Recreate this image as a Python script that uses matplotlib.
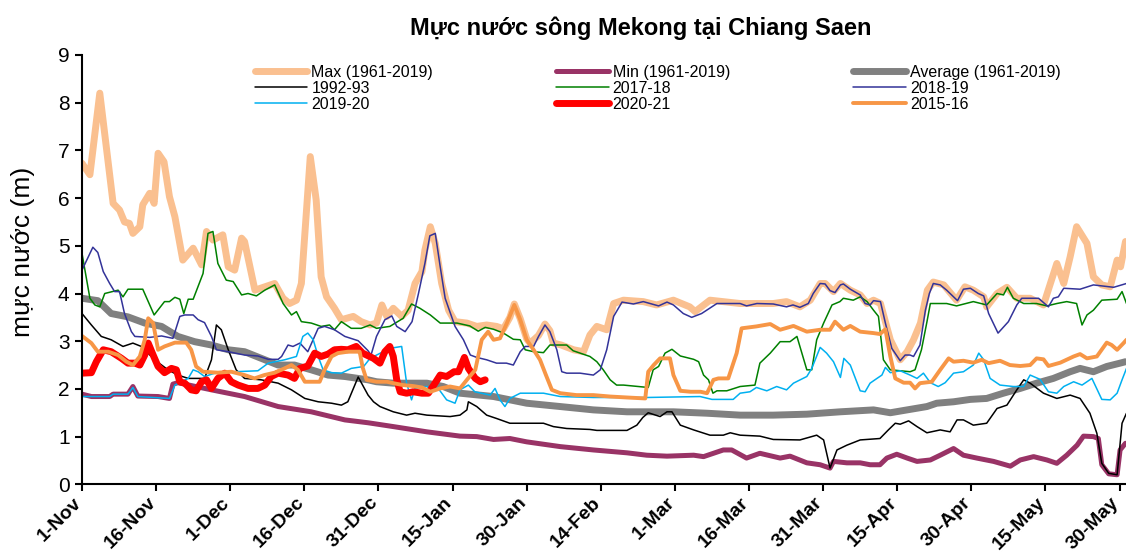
import matplotlib
matplotlib.use("Agg")
import matplotlib.pyplot as plt
from matplotlib.transforms import ScaledTranslation

plt.rcParams['font.family'] = ['Liberation Sans', 'DejaVu Sans']

# day offsets from 1-Nov and water level (m)
tick_days = [0, 15, 30, 45, 60, 75, 90, 105, 120, 135, 150, 165, 180, 195, 210]
tick_labels = ["1-Nov", "16-Nov", "1-Dec", "16-Dec", "31-Dec", "15-Jan", "30-Jan",
               "14-Feb", "1-Mar", "16-Mar", "31-Mar", "15-Apr", "30-Apr", "15-May", "30-May"]

max_days = [0, 1.6, 3.6, 4.9, 6.3, 7.6, 8.6, 9.6, 10.3, 11.7, 12.3, 13.7, 14.6, 15.4, 16.6, 17.7,
            18.8, 20.4, 22.5, 24.2, 25.2, 26.5, 28.5, 29.6, 30.9, 32.3, 32.9, 35, 37, 39, 40.7, 42,
            43.4, 44.4, 46.2, 47.4, 48.4, 49.5, 51.1, 52.5, 54.9, 56.5, 58.3, 59.6, 60.7, 61.7, 63,
            64.7, 66, 67.4, 68.8, 69.4, 70.5, 71.5, 72.8, 74.2, 75.5, 77.9, 79.9, 81.9, 83.9, 85.3,
            86.6, 87.5, 88.7, 90, 90.7, 92.4, 93.7, 94.7, 95.4, 97, 99.5, 101.5, 102.8, 104.2, 106.2,
            107.6, 109.6, 113.6, 116.3, 119.7, 123, 124.1, 127.1, 133.2, 139.9, 142.6, 145.3, 147.4,
            149.4, 150.4, 152.1, 153.5, 155.5, 157.5, 158.9, 160.2, 161.6, 163.6, 165.6, 167, 168.3,
            169.7, 171.1, 172.3, 174.4, 177, 178.7, 180.4, 182.5, 183.1, 185.2, 187.2, 189.2, 191.9,
            194.6, 196, 197.3, 198.7, 200, 201.3, 203.4, 204.7, 206.4, 208.1, 209.5, 210.2, 211.2]
max_vals = [6.73, 6.49, 8.2, 7.08, 5.89, 5.75, 5.5, 5.47, 5.26, 5.40, 5.86, 6.1, 5.89, 6.94, 6.76, 6.03,
            5.61, 4.7, 4.95, 4.6, 5.3, 5.12, 5.23, 4.56, 4.49, 5.16, 5.09, 4.07, 4.14, 4.21, 3.9, 3.79,
            3.86, 4.21, 6.87, 5.96, 4.35, 3.93, 3.69, 3.45, 3.52, 3.41, 3.34, 3.38, 3.76, 3.52, 3.69,
            3.52, 3.65, 4.21, 4.46, 4.91, 5.4, 5.05, 4.21, 3.65, 3.41, 3.38, 3.31, 3.34, 3.31, 3.26,
            3.5, 3.78, 3.47, 3.05, 2.96, 3.12, 3.36, 3.22, 2.96, 2.92, 2.82, 2.78, 3.13, 3.31, 3.24,
            3.79, 3.86, 3.83, 3.76, 3.86, 3.72, 3.62, 3.86, 3.79, 3.79, 3.83, 3.72, 3.86,
            4.21, 4.21, 4.04, 4.21, 4.07, 3.97, 3.79, 3.86, 3.79, 3.03, 2.61, 2.78, 3.03,
            3.38, 4.07, 4.24, 4.18, 3.86, 4.14, 4.07, 3.93, 3.72, 4.0, 4.13, 3.9, 3.9,
            3.76, 4.21, 4.63, 4.21, 4.77, 5.4, 5.05, 4.35, 4.18, 4.14, 4.7, 4.56, 5.09]

min_days = [0, 1.9, 5.6, 6.3, 9.3, 10.3, 11.3, 15.4, 17.7, 18.4, 19.4, 26.2, 32.9, 39.7, 46.4, 53.2,
            57.9, 63, 69.8, 76.5, 79.9, 83.3, 86.6, 90, 96.8, 103.5, 110.3, 114.3, 118.4, 123.8, 125.8,
            129.8, 131.5, 134.5, 137.2, 141.3, 143.3, 146.7, 149.4, 151.4, 152.1, 154.8, 157.5, 159.5,
            161.5, 162.9, 164.9, 167, 169, 171.7, 173.7, 176.4, 178.4, 181.1, 184.5, 187.9, 189.9,
            192.6, 195.3, 197.3, 199.3, 201.4, 202.7, 204.7, 205.7, 206.4, 207.8, 209.5, 210.1, 211.2]
min_vals = [1.89, 1.84, 1.84, 1.89, 1.89, 2.05, 1.85, 1.84, 1.80, 2.10, 2.13, 1.98, 1.84, 1.63, 1.52, 1.35,
            1.29, 1.21, 1.10, 1.01, 1.0, 0.94, 0.96, 0.89, 0.79, 0.72, 0.66, 0.61, 0.59, 0.61, 0.58,
            0.72, 0.72, 0.55, 0.65, 0.55, 0.59, 0.45, 0.41, 0.34, 0.48, 0.45, 0.45, 0.41,
            0.41, 0.55, 0.63, 0.55, 0.48, 0.51, 0.61, 0.75, 0.61, 0.55, 0.48, 0.38, 0.51,
            0.58, 0.51, 0.44, 0.61, 0.82, 1.01, 1.0, 0.96, 0.41, 0.22, 0.20, 0.72, 0.86]

avg_days = [0, 3.2, 5.9, 9.3, 12.7, 16.1, 19.4, 22.8, 26.2, 29.6, 32.9, 36.3, 39.7, 43, 46.4, 49.8,
            53.2, 57.9, 59.6, 63, 69.8, 73.1, 76.5, 83.3, 90, 96.8, 103.5, 110.3, 119.7, 126.5, 133.2,
            139.9, 146.7, 153.5, 160.2, 163.6, 167, 171, 173, 176.4, 179.8, 183.1, 186.5, 189.9,
            193.2, 196.6, 200, 202, 204.7, 207.4, 210.1, 211.2]
avg_vals = [3.90, 3.85, 3.58, 3.51, 3.38, 3.31, 3.10, 2.99, 2.92, 2.82, 2.78, 2.64, 2.50, 2.50, 2.40, 2.29,
            2.26, 2.19, 2.15, 2.12, 2.12, 2.05, 1.91, 1.84, 1.70, 1.63, 1.56, 1.52, 1.52, 1.49, 1.45,
            1.45, 1.47, 1.52, 1.56, 1.50, 1.56, 1.63, 1.70, 1.73, 1.78, 1.80, 1.91, 2.01,
            2.12, 2.22, 2.36, 2.43, 2.36, 2.47, 2.54, 2.57]

y1992_days = [0, 1.9, 3.9, 5.9, 8.3, 10.3, 12, 14.7, 17.4, 19.4, 21.5, 24.8, 26.2, 27.2, 28.2, 29.6,
              31.2, 32.9, 36.3, 39.7, 42.4, 45.1, 47.8, 50.5, 52.5, 53.8, 55.9, 57.9, 59, 60.3, 63,
              65.7, 67.4, 69.8, 74.5, 76.5, 77.9, 78.2, 79.9, 81.9, 83.9, 86.6, 93.4, 95.4, 98.1,
              102.8, 104.2, 110.3, 112.3, 113.5, 114.6, 117, 118.4, 119.4, 121.1, 123.8, 127.1,
              129.8, 131.2, 133.2, 137.2, 139.9, 145.3, 148.7, 150.1, 151.4, 152.8, 154.8, 157.5,
              161.5, 163.2, 164.6, 165.6, 167.3, 169, 171, 173.7, 175.7, 177.1, 178.4, 180.4,
              183.1, 185.2, 187.2, 189.2, 190.6, 191.9, 194.6, 197.3, 200, 202, 204, 205.4, 206.4,
              207.8, 209.5, 210.5, 211.4]
y1992_vals = [3.58, 3.34, 3.10, 3.03, 2.89, 2.96, 2.89, 2.61, 2.40, 2.29, 2.22, 2.22, 2.61, 3.34, 3.24, 2.82,
              2.40, 2.22, 2.19, 2.12, 1.98, 1.80, 1.73, 1.70, 1.66, 1.73, 2.25, 1.87, 1.73, 1.63, 1.52,
              1.45, 1.49, 1.45, 1.42, 1.45, 1.56, 1.73, 1.63, 1.45, 1.38, 1.28, 1.28, 1.21, 1.17,
              1.15, 1.13, 1.13, 1.24, 1.40, 1.50, 1.42, 1.52, 1.52, 1.24, 1.14, 1.03,
              1.03, 1.08, 1.03, 1.01, 0.94, 0.93, 1.03, 0.93, 0.34, 0.72, 0.82, 0.93,
              0.96, 1.14, 1.28, 1.26, 1.33, 1.21, 1.08, 1.14, 1.10, 1.35, 1.35, 1.24,
              1.28, 1.59, 1.66, 1.98, 2.19, 2.12, 1.91, 1.80, 1.87, 1.80, 1.49, 1.07, 0.44,
              0.23, 0.20, 1.28, 1.49]

y2017_days = [0, 1.6, 2.6, 3.6, 4.6, 7.3, 8.3, 9.3, 12.3, 14.6, 16.7, 17.7, 18.8, 19.8, 20.6, 21.5,
              22.5, 24.5, 25.5, 26.5, 27.5, 29.2, 30.6, 32.3, 33.6, 35.3, 37, 39, 40.7, 42.4, 43.4,
              44.4, 46.4, 48.4, 50.1, 51.1, 52.5, 54.5, 56.5, 58.3, 59.6, 62.3, 65, 66.7, 68.4, 70.5,
              72.5, 75.9, 78.5, 80.2, 81.6, 83.3, 85.3, 87.3, 88.7, 89.7, 91.4, 93.4, 94.7, 98.1,
              99.4, 102.8, 104.2, 105.5, 106.9, 108.2, 109.6, 114.6, 115.6, 116.7, 118, 119.4, 121.1,
              123.8, 124.8, 125.8, 126.8, 127.7, 128.5, 130.5, 133.2, 136.2, 137.2, 139.3, 141.3,
              143.3, 144.7, 146.1, 146.7, 147.7, 148.7, 150.1, 151.8, 153.4, 154.1, 156.1, 157.5,
              158.9, 160.2, 161.2, 162.2, 163.6, 165.6, 167.6, 168.6, 169.9, 171, 171.7, 175, 177,
              180.4, 183.1, 185.2, 186.5, 187.3, 188.5, 190.6, 193.2, 195.3, 197.3, 199.3, 201.3,
              202.4, 203.4, 204.7, 206.4, 209.5, 210.5, 211.4]
y2017_vals = [4.84, 3.90, 3.76, 3.72, 4.0, 4.07, 3.93, 4.09, 4.09, 3.55, 3.83, 3.83, 3.92, 3.88, 3.58, 3.88,
              3.88, 4.42, 5.26, 5.30, 4.63, 4.28, 4.25, 3.97, 4.0, 3.95, 4.07, 4.18, 3.79, 3.55, 3.62,
              3.41, 3.38, 3.31, 3.34, 3.24, 3.41, 3.27, 3.27, 3.34, 3.27, 3.31, 3.48, 3.78, 3.69, 3.55,
              3.38, 3.38, 3.32, 3.21, 3.29, 3.25, 3.17, 3.04, 3.03, 2.82, 2.78, 2.76, 2.92, 2.92,
              2.80, 2.68, 2.57, 2.40, 2.19, 2.08, 2.08, 2.03, 2.40, 2.47, 2.75, 2.83, 2.69,
              2.62, 2.57, 2.29, 2.19, 1.91, 1.96, 1.96, 2.05, 2.08, 2.54, 2.75, 2.99,
              2.99, 3.10, 2.61, 2.40, 2.40, 3.03, 3.38, 3.76, 3.83, 3.90, 3.86, 3.93,
              3.83, 3.65, 3.52, 2.61, 2.40, 2.38, 2.36, 2.40, 2.82, 3.4, 3.79, 3.79, 3.74,
              3.83, 3.76, 4.00, 3.97, 4.13, 3.90, 3.79, 3.79, 3.74, 3.79, 3.83, 3.79,
              3.34, 3.55, 3.65, 3.86, 3.88, 4.04, 3.79]

y2018_days = [0, 2.2, 3.2, 4.3, 5.6, 6.6, 7.6, 8.6, 10, 10.7, 13.7, 16.1, 18.4, 19.8, 20.8, 22.5, 23.5,
              24.8, 26.2, 27.2, 29.6, 32.9, 35.6, 37.7, 39.7, 40.4, 41.7, 42.7, 44.1, 45.7, 47.8, 49.1,
              51.1, 53.2, 55.9, 57.9, 58.5, 59.6, 61.3, 62.7, 63.7, 65.4, 66.8, 68.1, 69.4, 70.4, 71.5,
              72.5, 73.5, 75.5, 77.2, 78.6, 79.9, 81.9, 83.9, 85.9, 87.3, 88.7, 89.7, 91.4, 92.4, 93.7,
              94.7, 96.1, 97.1, 98.1, 100.8, 103.5, 104.9, 106.2, 107.6, 109.3, 111.6, 113.6, 115,
              116.7, 118.4, 119.7, 121.7, 123.4, 125.4, 128.5, 133.2, 134.5, 136.6, 139.9, 142.6,
              143.9, 145.3, 147, 148, 149.4, 150.4, 151.4, 152.4, 153.5, 154.1, 155.5, 157.5, 158.5,
              159.5, 160.2, 161.6, 162.6, 163.9, 165.6, 166.6, 167.6, 168.3, 169.6, 170.7, 171.5,
              172.3, 173.7, 175, 177.2, 178.4, 179.8, 181.4, 182.5, 183.5, 185.4, 187.5, 189.2, 190.2,
              193.6, 195.6, 196.6, 197.6, 198.7, 202, 204.7, 208.8, 211.4]
y2018_vals = [4.49, 4.97, 4.86, 4.46, 4.21, 4.04, 4.04, 3.58, 3.20, 3.10, 3.08, 3.11, 3.06, 3.52, 3.55, 3.55, 3.45,
              3.39, 3.10, 2.82, 2.78, 2.71, 2.69, 2.62, 2.62, 2.68, 2.92, 2.89, 2.96, 2.78, 3.27, 3.31,
              3.24, 3.10, 3.01, 2.80, 2.71, 3.10, 3.45, 3.53, 3.31, 3.20, 3.41, 4.0, 4.63, 5.21, 5.26,
              4.56, 3.90, 3.31, 3.03, 2.71, 2.66, 2.61, 2.54, 2.54, 2.50, 2.78, 2.89, 2.89, 3.10, 3.34,
              3.20, 2.82, 2.36, 2.33, 2.33, 2.29, 2.40, 2.82, 3.52, 3.82, 3.78, 3.83, 3.79,
              3.74, 3.82, 3.76, 3.58, 3.50, 3.58, 3.79, 3.79, 3.74, 3.79, 3.78, 3.72,
              3.76, 3.71, 3.79, 4.0, 4.21, 4.20, 4.06, 4.02, 4.18, 4.20, 4.09, 3.97, 3.79,
              3.76, 3.85, 3.83, 3.38, 2.85, 2.59, 2.71, 2.71, 2.68, 2.92, 3.65, 4.0,
              4.21, 4.18, 4.07, 3.85, 4.09, 4.11, 4.0, 3.95, 3.58, 3.17, 3.41, 3.76, 3.90,
              3.90, 3.72, 3.90, 3.93, 4.11, 4.09, 4.18, 4.13, 4.21]

y2019_days = [0, 5.6, 6.3, 9.3, 10.3, 11.3, 17.7, 18.8, 20.1, 21.5, 22.5, 23.5, 24.8, 26.9, 30.9, 35.6,
              37.7, 41, 43.4, 44.7, 45.7, 46.8, 47.8, 48.8, 50.5, 52.5, 54.5, 57, 58.3, 62.3, 64.7,
              65.7, 66.7, 67.4, 69.8, 70.8, 72.1, 73.8, 75.5, 76.5, 78.2, 79.5, 82.6, 83.6, 84.6,
              85.6, 86.6, 88.7, 93.4, 96.8, 103.5, 114.3, 125.1, 127.5, 131.8, 133.2, 135.2, 136.5,
              138.6, 140.6, 142.6, 144, 146.7, 147.7, 149.4, 150.7, 152.1, 153.5, 154.2, 155.5,
              157.5, 158.5, 159.5, 160.9, 161.9, 162.6, 163.6, 165.6, 167.6, 169, 170.3, 171.7,
              173.3, 174.7, 176.4, 178.4, 180.4, 181.5, 182.5, 183.8, 185.8, 188.5, 190.6, 191.9,
              193.9, 195.6, 197.3, 198.7, 200.7, 202.4, 204.4, 206.4, 208.1, 209.5, 210.5, 211.4]
y2019_vals = [1.84, 1.84, 1.89, 1.89, 2.03, 1.84, 1.80, 2.08, 2.15, 2.22, 2.40, 2.36, 2.26, 2.33, 2.36, 2.38,
              2.54, 2.61, 2.68, 3.10, 3.17, 3.03, 2.68, 2.40, 2.34, 2.33, 2.43, 2.47, 2.64, 2.85, 2.89,
              2.12, 1.77, 2.01, 2.05, 1.98, 2.01, 1.77, 1.70, 1.98, 2.08, 1.94, 1.87, 2.01, 1.77,
              1.63, 1.80, 1.91, 1.91, 1.84, 1.82, 1.82, 1.84, 1.78, 1.78, 1.91, 1.94, 2.03,
              1.96, 2.05, 1.98, 2.12, 2.26, 2.43, 2.87, 2.75, 2.57, 2.24, 2.64, 2.50,
              1.96, 1.94, 2.12, 2.22, 2.29, 2.45, 2.34, 2.38, 2.29, 2.22, 2.33, 2.13,
              2.05, 2.13, 2.33, 2.36, 2.50, 2.75, 2.61, 2.22, 2.08, 2.05, 2.05, 2.29,
              2.20, 1.94, 1.91, 2.05, 2.15, 2.08, 2.22, 1.78, 1.77, 1.91, 2.19, 2.43]

y2020_days = [0, 1.9, 2.9, 4.3, 5.9, 8, 9.3, 10.7, 11.7, 12.7, 13.4, 14.4, 15.4, 16.7, 18.1, 19.1, 19.8,
              20.8, 22.1, 23.1, 24.2, 25.2, 26.2, 27.5, 28.9, 30.2, 31.6, 33.6, 35.6, 37, 38.3, 39.7,
              41.7, 43, 44.1, 45.7, 47.1, 48.4, 49.8, 51.1, 52.5, 53.8, 55.5, 56.8, 57.6, 59, 60.3,
              61.3, 62.3, 63, 63.7, 64.4, 65.7, 67, 68.8, 70.1, 71.2, 72.5, 73.8, 75.3, 76.2, 77.4,
              78.2, 79.6, 80.6, 81.6]
y2020_vals = [2.33, 2.34, 2.57, 2.82, 2.78, 2.64, 2.54, 2.54, 2.50, 2.71, 2.96, 2.71, 2.47, 2.34, 2.43, 2.40, 2.15,
              2.12, 1.98, 1.96, 2.15, 2.19, 2.01, 2.22, 2.33, 2.15, 2.08, 2.01, 2.01, 2.08, 2.26, 2.33,
              2.29, 2.22, 2.43, 2.48, 2.75, 2.68, 2.73, 2.82, 2.83, 2.82, 2.89, 2.75, 2.71, 2.64, 2.54,
              2.78, 2.89, 2.68, 2.19, 1.94, 1.91, 1.94, 1.91, 1.91, 2.08, 2.29, 2.26, 2.36, 2.36, 2.66,
              2.43, 2.22, 2.15, 2.19]

y2015_days = [0, 1.9, 3.2, 5.3, 7.3, 9, 10.3, 11.7, 12.7, 13.4, 14.4, 15.4, 16.7, 18.8, 21.1, 22.1, 23.1,
              24.5, 27.5, 30.2, 32.9, 34.9, 36.9, 39, 41, 42.4, 43.7, 45.1, 48.1, 49.1, 50.5, 51.8, 53.8,
              56.2, 56.8, 57.6, 59.6, 61.7, 63, 65, 67, 68.8, 70.5, 72.5, 74.5, 76.5, 77.9, 79.6, 80.9,
              82.2, 83.3, 84.6, 86, 87.5, 88.7, 90, 91.4, 92.7, 93.9, 95.1, 96.8, 100.1, 103.5, 106.9,
              110.3, 114, 114.6, 115.7, 117, 119, 119.7, 121.1, 123.2, 125.2, 126.5, 127.8, 128.8,
              130.8, 132.5, 133.5, 136.5, 139.3, 141.3, 144, 146.7, 149.4, 151.4, 152.4, 154.1, 155.5,
              157.5, 160.2, 161.5, 162.6, 163.6, 164.6, 166.3, 167.6, 168.6, 169.6, 172, 173.7, 175.4,
              176.4, 178.4, 180.4, 182.1, 183.5, 185.8, 187.8, 189.9, 191.9, 193.2, 194.6, 195.6, 198,
              200.7, 202, 203.4, 205.4, 207.4, 208.4, 209.5, 210.8, 211.4]
y2015_vals = [3.11, 2.96, 2.78, 2.78, 2.71, 2.57, 2.50, 2.68, 3.03, 3.48, 3.38, 2.82, 2.89, 2.97, 2.97, 2.82, 2.47,
              2.36, 2.34, 2.36, 2.29, 2.22, 2.29, 2.34, 2.43, 2.50, 2.40, 2.15, 2.15, 2.40, 2.68, 2.75, 2.78,
              2.78, 2.45, 2.19, 2.15, 2.15, 2.12, 2.08, 2.06, 2.03, 1.94, 2.01, 2.05, 2.01, 2.19, 2.40, 3.03,
              3.20, 3.03, 3.06, 3.38, 3.76, 3.45, 3.03, 2.82, 2.61, 2.29, 1.98, 1.91, 1.87, 1.87, 1.84,
              1.82, 1.80, 2.36, 2.50, 2.64, 2.64, 2.29, 1.96, 1.94, 1.94, 1.91, 2.19, 2.22,
              2.22, 2.75, 3.27, 3.31, 3.36, 3.24, 3.32, 3.20, 3.24, 3.24, 3.41, 3.24, 3.32,
              3.20, 3.17, 3.15, 3.25, 2.68, 2.22, 2.13, 2.13, 2.01, 2.12, 2.15, 2.40, 2.64,
              2.57, 2.59, 2.55, 2.61, 2.54, 2.59, 2.50, 2.48, 2.50, 2.64, 2.62, 2.48, 2.55,
              2.68, 2.73, 2.64, 2.68, 2.97, 2.92, 2.82, 2.96, 3.03]

W, H = 1126, 557
fig = plt.figure(figsize=(W / 100, H / 100), dpi=100)
ax = fig.add_axes([82 / W, 1 - 484.3 / H, 1 - 82 / W, (484.3 - 55) / H])

style = dict(solid_capstyle='round', solid_joinstyle='round')
ax.plot(max_days, max_vals, color='#FAC090', lw=5, label='Max (1961-2019)', **style)
ax.plot(min_days, min_vals, color='#993366', lw=3.6, label='Min (1961-2019)', **style)
ax.plot(avg_days, avg_vals, color='#808080', lw=5, label='Average (1961-2019)', **style)
ax.plot(y1992_days, y1992_vals, color='black', lw=1.1, label='1992-93', **style)
ax.plot(y2017_days, y2017_vals, color='#008000', lw=1.1, label='2017-18', **style)
ax.plot(y2018_days, y2018_vals, color='#333399', lw=1.1, label='2018-19', **style)
ax.plot(y2019_days, y2019_vals, color='#00B0F0', lw=1.1, label='2019-20', **style)
ax.plot(y2020_days, y2020_vals, color='#FF0000', lw=5, label='2020-21', **style)
ax.plot(y2015_days, y2015_vals, color='#F79646', lw=2.8, label='2015-16', **style)

ax.set_xlim(0, 211.3)
ax.set_ylim(0, 9)
ax.set_yticks(range(10))
ax.set_xticks(tick_days)
ax.tick_params(axis='y', labelsize=15, length=5, width=1.5, pad=4)
ax.tick_params(axis='x', length=5, width=1.5, pad=2)
ax.set_xticklabels(tick_labels, rotation=45, ha='right', rotation_mode='anchor',
                   fontweight='bold', fontsize=14)
# nudge the rotated labels so their ends sit just left of the ticks
shift = ScaledTranslation(-9 / 100, 0, fig.dpi_scale_trans)
for lab in ax.get_xticklabels():
    lab.set_transform(lab.get_transform() + shift)
for side in ['top', 'right']:
    ax.spines[side].set_visible(False)
for side in ['left', 'bottom']:
    ax.spines[side].set_linewidth(1.5)

fig.text(23 / W, 1 - 252 / H, 'mực nước (m)', rotation=90, ha='center', va='center', fontsize=19)

fig.text(641 / W, 1 - 34.6 / H, 'Mực nước sông Mekong tại Chiang Saen',
         ha='center', va='baseline', fontsize=17, fontweight='bold')

# legend is filled column by column, reorder to match the row layout
h, l = ax.get_legend_handles_labels()
order = [0, 3, 6, 1, 4, 7, 2, 5, 8]
fig.legend([h[i] for i in order], [l[i] for i in order], ncol=3, frameon=False,
           loc='upper left', bbox_to_anchor=(254.6 / W, 1 - 65 / H), fontsize=11.5,
           handlelength=3.3, handletextpad=0.25, columnspacing=7.7, labelspacing=0.06,
           borderpad=0, borderaxespad=0)

fig.savefig('out.png', dpi=100)
